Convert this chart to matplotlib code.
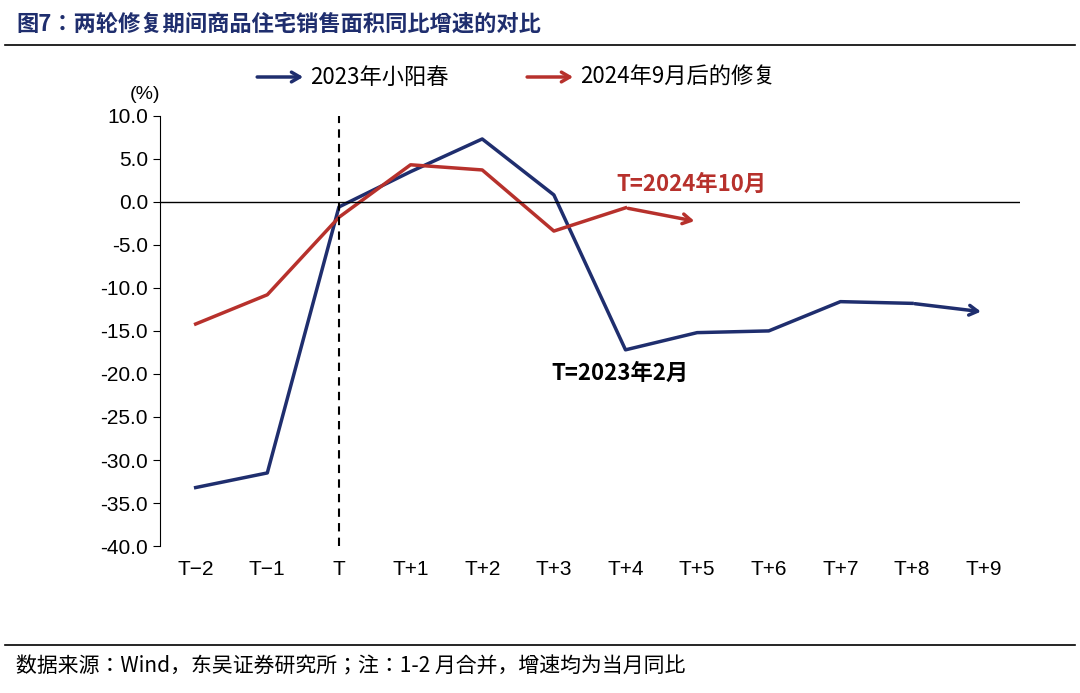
import matplotlib
matplotlib.use("Agg")
import matplotlib.pyplot as plt

cats = ["T−2","T−1","T","T+1","T+2","T+3","T+4","T+5","T+6","T+7","T+8","T+9"]
blue = [-33.2,-31.5,-0.6,3.5,7.3,0.8,-17.2,-15.2,-15.0,-11.6,-11.8,-12.8]
red = [-14.2,-10.8,-1.8,4.3,3.7,-3.4,-0.7,-2.3]
yticks = [10,5,0,-5,-10,-15,-20,-25,-30,-35,-40]

BLUE = "#1f2e6e"; RED = "#b7312c"
cjk = ["Noto Sans CJK SC", "Noto Sans CJK JP", "Noto Sans CJK TC", "DejaVu Sans"]
lat = ["Liberation Sans", "Noto Sans CJK SC", "Noto Sans CJK JP"]
fig = plt.figure(figsize=(10.8,6.93), dpi=100)
ax = fig.add_axes([0.148,0.212,0.796,0.621])
xb = list(range(len(blue))); xr = list(range(len(red)))
ap = lambda c: dict(arrowstyle="->,head_length=0.6,head_width=0.35", color=c, lw=2.5)
ax.plot(xb[:-1], blue[:-1], color=BLUE, lw=2.5)
ax.annotate("", xy=(xb[-1],blue[-1]), xytext=(xb[-2],blue[-2]), arrowprops=ap(BLUE))
ax.plot(xr[:-1], red[:-1], color=RED, lw=2.5)
ax.annotate("", xy=(xr[-1],red[-1]), xytext=(xr[-2],red[-2]), arrowprops=ap(RED))
ax.axvline(2, ymin=0, ymax=1, color="black", ls=(0,(4,3)), lw=1.5)
ax.axhline(0, color="black", lw=1)
ax.set_xlim(-0.5, 11.5); ax.set_ylim(-40, 10)
ax.set_yticks(yticks); ax.set_yticklabels([f"{v:.1f}" for v in yticks], fontfamily=lat, fontsize=15)
ax.set_xticks(xb); ax.set_xticklabels(cats, fontfamily=lat, fontsize=15)
ax.tick_params(axis="x", length=0, pad=10)
ax.tick_params(axis="y", direction="out", length=5)
for s in ["top","right","bottom"]: ax.spines[s].set_visible(False)
ax.text(-0.035, 1.04, "(%)", transform=ax.transAxes, fontsize=14, fontfamily=lat)
ax.text(5.87, 1.3, "T=2024年10月", color=RED, fontsize=16, fontweight="bold", fontfamily=cjk)
ax.text(4.97, -20.7, "T=2023年2月", color="black", fontsize=16, fontweight="bold", fontfamily=cjk)
for x0, col, lab in [(0.11, BLUE, "2023年小阳春"), (0.424, RED, "2024年9月后的修复")]:
    ax.annotate("", xy=(x0+0.06, 1.09), xytext=(x0, 1.09), xycoords="axes fraction",
                arrowprops=ap(col), annotation_clip=False)
    ax.text(x0+0.065, 1.09, lab, transform=ax.transAxes, va="center", fontsize=16, fontfamily=cjk)
fig.text(0.015, 0.965, "图7：两轮修复期间商品住宅销售面积同比增速的对比", fontsize=16, fontweight="bold",
         fontfamily=cjk, color="#1f2e6e", va="center")
fig.add_artist(plt.Line2D([0.005,0.995],[0.935,0.935], color="black", lw=1.2))
fig.add_artist(plt.Line2D([0.005,0.995],[0.069,0.069], color="black", lw=1.2))
fig.text(0.015, 0.038, "数据来源：Wind，东吴证券研究所；注：1-2 月合并，增速均为当月同比", fontsize=15,
         fontfamily=cjk, va="center")
fig.savefig("out.png", dpi=100)
